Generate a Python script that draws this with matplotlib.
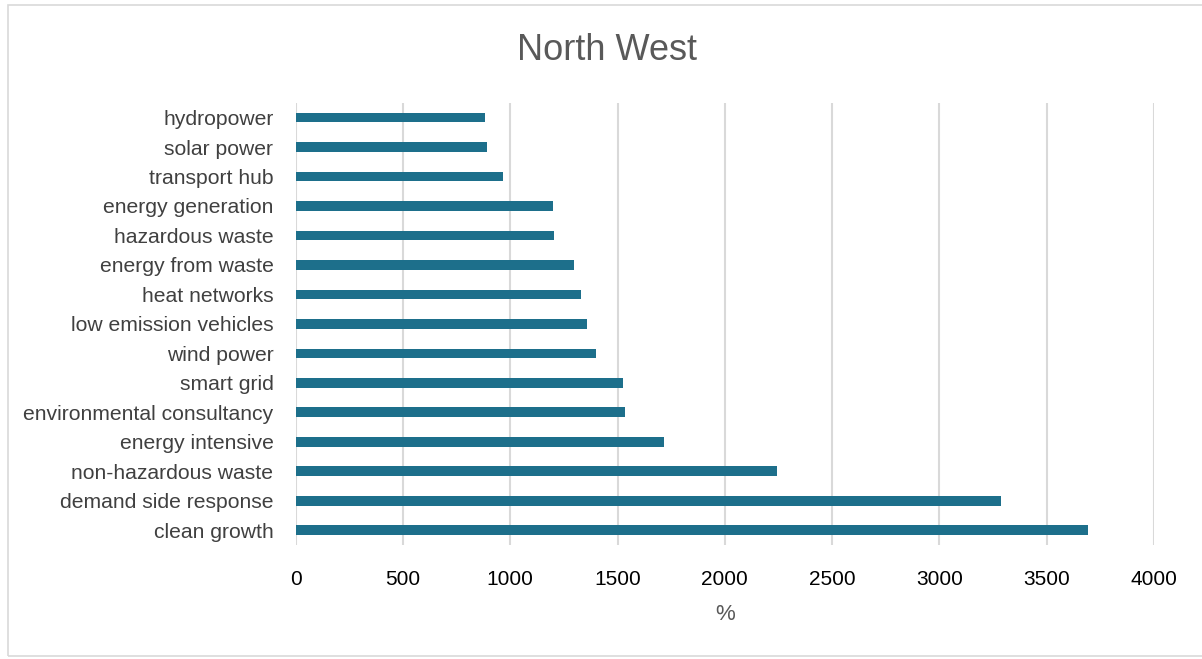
import matplotlib
matplotlib.use('Agg')
from matplotlib import pyplot as plt
from matplotlib.patches import Rectangle

# categories top -> bottom as shown in the picture
categories = ['hydropower', 'solar power', 'transport hub', 'energy generation',
              'hazardous waste', 'energy from waste', 'heat networks',
              'low emission vehicles', 'wind power', 'smart grid',
              'environmental consultancy', 'energy intensive',
              'non-hazardous waste', 'demand side response', 'clean growth']
values = [880, 893, 968, 1201, 1204, 1295, 1331, 1356, 1401, 1525,
          1533, 1718, 2245, 3286, 3694]
x_ticks = [0, 500, 1000, 1500, 2000, 2500, 3000, 3500, 4000]

plt.rcParams['font.family'] = ['Liberation Sans', 'DejaVu Sans']

fig = plt.figure(figsize=(12.02, 6.59), dpi=100)
# outer chart border
fig.patches.append(Rectangle((8 / 1202, 3 / 659), 1.0, 1 - 8 / 659,
                             transform=fig.transFigure, fill=False,
                             edgecolor='#d9d9d9', linewidth=1.2))

ax = fig.add_axes([0.246, 0.173, 0.714, 0.671])
pos = list(range(len(categories)))[::-1]
ax.barh(pos, values, height=0.33, color='#1d6f8b', zorder=3)

ax.set_xlim(0, 4000)
ax.set_ylim(-0.5, len(categories) - 0.5)
ax.set_xticks(x_ticks)
ax.set_xticklabels([str(t) for t in x_ticks], fontsize=15, color='#000000')
ax.set_yticks(pos)
ax.set_yticklabels(categories, fontsize=15.2, color='#404040')
ax.tick_params(axis='both', length=0)
ax.tick_params(axis='x', pad=18)
ax.tick_params(axis='y', pad=16)
ax.grid(axis='x', color='#d9d9d9', linewidth=1.5, zorder=0)
for s in ax.spines.values():
    s.set_visible(False)

ax.set_xlabel('%', fontsize=16, color='#595959', labelpad=11)
fig.text(0.505, 0.923, 'North West', ha='center', va='center',
         fontsize=26, color='#595959')

fig.savefig('out.png', dpi=100)
